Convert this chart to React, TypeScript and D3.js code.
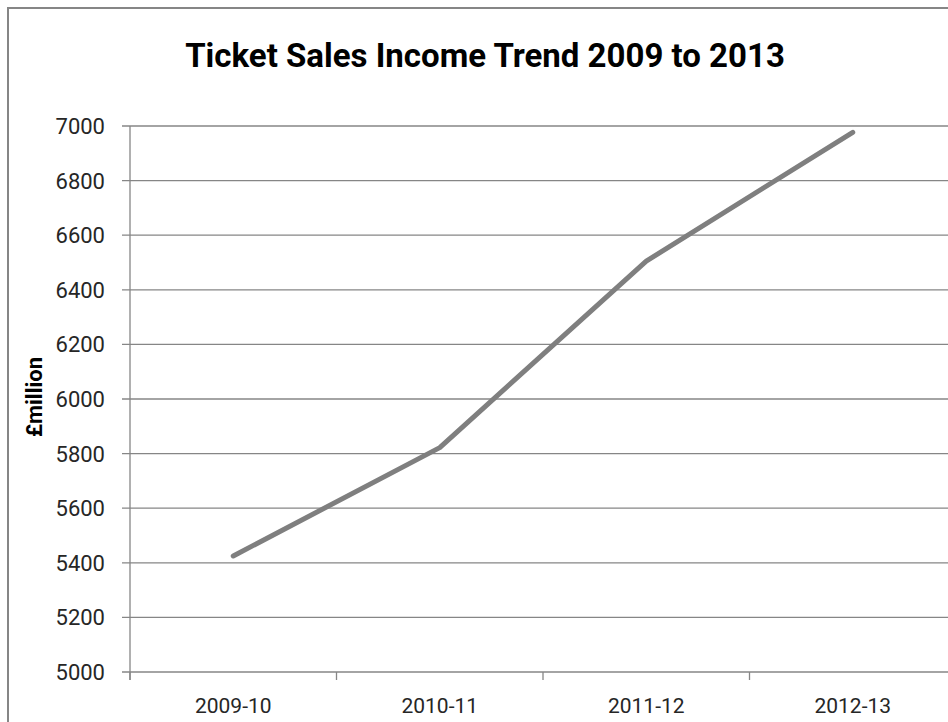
import React from "react";
import * as d3 from "d3";

const categories = ["2009-10", "2010-11", "2011-12", "2012-13"];
const income = [5425, 5822, 6505, 6977];
const yTicks = [5000, 5200, 5400, 5600, 5800, 6000, 6200, 6400, 6600, 6800, 7000];
const title = "Ticket Sales Income Trend 2009 to 2013";
const yLabel = "£million";

const W = 948;
const H = 722;
const left = 130;
const bandW = 206.5;
const top = 126;
const bottom = 672;

export default function App() {
  const x = d3
    .scaleBand<string>()
    .domain(categories)
    .range([left, left + bandW * categories.length]);
  const y = d3.scaleLinear().domain([5000, 7000]).range([bottom, top]);
  const line = d3
    .line<number>()
    .x((_, i) => (x(categories[i]) as number) + x.bandwidth() / 2)
    .y((d) => y(d));
  const font = "'Roboto', sans-serif";
  const right = left + bandW * categories.length;
  return (
    <div style={{ position: "absolute", left: 0, top: 0 }}>
      <svg width={W} height={H} style={{ display: "block", background: "#fff" }}>
        <rect x={8} y={8} width={W + 20} height={H + 20} fill="#fff" stroke="#868686" strokeWidth={2} />
        <text
          x={485}
          y={67}
          textAnchor="middle"
          fontFamily={font}
          fontWeight="bold"
          fontSize={33}
          fill="#000"
        >
          {title}
        </text>
        {yTicks.map((t) => (
          <g key={t}>
            <line x1={left - 8} x2={right} y1={y(t)} y2={y(t)} stroke="#868686" strokeWidth={1.3} />
            <text
              x={left - 25}
              y={y(t)}
              dy="0.36em"
              textAnchor="end"
              fontFamily={font}
              fontSize={22}
              fill="#262626"
            >
              {t}
            </text>
          </g>
        ))}
        <line x1={left} x2={left} y1={top} y2={bottom + 8} stroke="#868686" strokeWidth={1.3} />
        {categories.map((c) => (
          <g key={c}>
            <line
              x1={x(c) as number}
              x2={x(c) as number}
              y1={bottom}
              y2={bottom + 8}
              stroke="#868686"
              strokeWidth={1.3}
            />
            <text
              x={(x(c) as number) + x.bandwidth() / 2}
              y={713}
              textAnchor="middle"
              fontFamily={font}
              fontSize={21}
              fill="#262626"
            >
              {c}
            </text>
          </g>
        ))}
        <text
          transform={`translate(42, 397) rotate(-90)`}
          textAnchor="middle"
          fontFamily={font}
          fontWeight="bold"
          fontSize={22}
          fill="#000"
        >
          {yLabel}
        </text>
        <path
          d={line(income) as string}
          fill="none"
          stroke="#7f7f7f"
          strokeWidth={5}
          strokeLinecap="round"
          strokeLinejoin="round"
        />
      </svg>
    </div>
  );
}
